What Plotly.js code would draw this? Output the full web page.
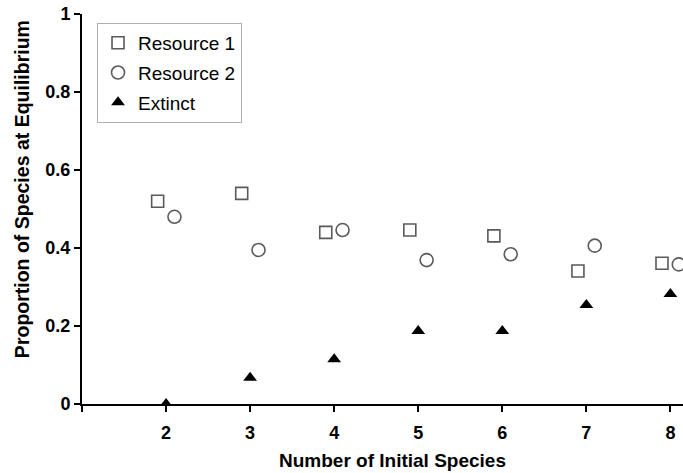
<!DOCTYPE html>
<html>
<head>
<meta charset="utf-8">
<script src="https://cdn.plot.ly/plotly-3.0.1.min.js"></script>
<style>html,body{margin:0;padding:0;background:#fff;}#chart{width:683px;height:473px;}</style>
</head>
<body>
<div id="chart"></div>
<script>
const species = [2, 3, 4, 5, 6, 7, 8];
const resource1 = [0.52, 0.54, 0.44, 0.446, 0.431, 0.341, 0.361];
const resource2 = [0.48, 0.395, 0.446, 0.369, 0.384, 0.406, 0.358];
const extinct = [0.0, 0.067, 0.115, 0.187, 0.187, 0.254, 0.282];
const xTickVals = [1, 2, 3, 4, 5, 6, 7, 8];
const xTickText = ['', '2', '3', '4', '5', '6', '7', '8'];
const yTickVals = [0, 0.2, 0.4, 0.6, 0.8, 1];
const yTickText = ['0', '0.2', '0.4', '0.6', '0.8', '1'];
const xTitle = 'Number of Initial Species';
const yTitle = 'Proportion of Species at Equilibrium';

const shift = 0.1;
const gray = '#5a5a5a';
const font = 'Liberation Sans, Arial, sans-serif';

const traces = [
  {x: species.map(v => v - shift), y: resource1, name: 'Resource 1', type: 'scatter', mode: 'markers',
   legendgroup: 'a',
   marker: {symbol: 'square-open', size: 12, color: gray, line: {width: 1.6, color: gray}}},
  {x: species.map(v => v + shift), y: resource2, name: 'Resource 2', type: 'scatter', mode: 'markers',
   legendgroup: 'b',
   marker: {symbol: 'circle-open', size: 13, color: gray, line: {width: 1.6, color: gray}}},
  {x: species, y: extinct, name: 'Extinct', type: 'scatter', mode: 'markers',
   legendgroup: 'c',
   marker: {symbol: 'triangle-up', size: 12, color: '#000'}}
];

const layout = {
  width: 683, height: 473,
  margin: {l: 82, r: 0, t: 14, b: 69},
  paper_bgcolor: '#fff', plot_bgcolor: '#fff',
  font: {family: font, color: '#000'},
  showlegend: true,
  legend: {x: 0.025, y: 0.977, xanchor: 'left', yanchor: 'top',
    bordercolor: '#b0b0b0', borderwidth: 1, bgcolor: '#fff',
    font: {family: font, size: 19, color: '#000'},
    traceorder: 'grouped', tracegroupgap: 2},
  xaxis: {range: [1, 8.15], tickvals: xTickVals, ticktext: xTickText,
    showgrid: false, zeroline: false, showline: true, linecolor: '#000', linewidth: 2,
    ticks: 'outside', ticklen: 6, tickwidth: 2, tickcolor: '#000',
    ticklabelstandoff: 5,
    tickfont: {family: font, size: 18, weight: 'bold'}},
  yaxis: {range: [0, 1], tickvals: yTickVals, ticktext: yTickText,
    showgrid: false, zeroline: false, showline: true, linecolor: '#000', linewidth: 2,
    ticks: 'outside', ticklen: 6, tickwidth: 2, tickcolor: '#000',
    tickfont: {family: font, size: 18, weight: 'bold'}},
  annotations: [
    {text: xTitle, xref: 'paper', yref: 'paper', x: 0.5166, y: -0.1436,
     xanchor: 'center', yanchor: 'middle', showarrow: false,
     font: {family: font, size: 19, weight: 'bold', color: '#000'}},
    {text: yTitle, xref: 'paper', yref: 'paper', x: -0.0998, y: 0.551,
     xanchor: 'center', yanchor: 'middle', showarrow: false, textangle: -90,
     font: {family: font, size: 19.5, weight: 'bold', color: '#000'}}
  ]
};

Plotly.newPlot('chart', traces, layout, {displayModeBar: false, staticPlot: true});
</script>
</body>
</html>
